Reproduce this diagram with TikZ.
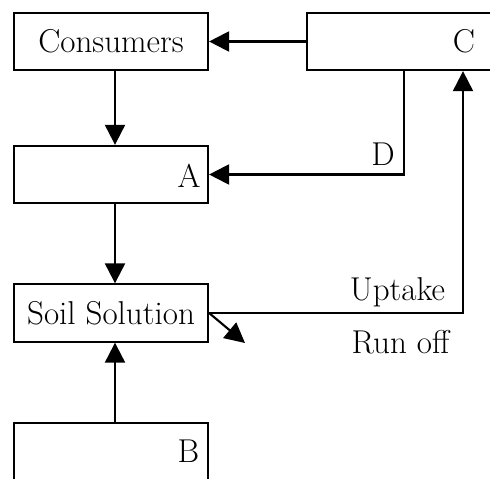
\documentclass[tikz,border=0pt]{standalone}
\usetikzlibrary{arrows.meta}

\begin{document}
\begin{tikzpicture}[x=0.025cm,y=-0.025cm,
  box/.style={draw,line width=1.5pt,minimum width=4.85cm,minimum height=1.43cm,inner sep=0pt},
  flow/.style={line width=1.5pt,-{Triangle[length=0.5cm,width=0.5cm]}},
  lbl/.style={font=\fontsize{23.5}{28}\selectfont}]

  % Fix the size of the page
  \useasboundingbox (0,0) rectangle (490,478);
  \clip (0,0) rectangle (490,478);

  % Define the boxes
  \node[box,lbl] (cons) at (111,41.5) {Consumers};
  \node[box] (c) at (404,41.5) {};
  \node[box] (a) at (111,174.5) {};
  \node[box,lbl] (soil) at (111,313) {Soil Solution};
  \node[box] (b) at (111,452) {};

  % Letters inside the boxes
  \node[lbl,anchor=base] (labC) at (464,53) {C};
  \node[lbl,anchor=base] (labA) at (189,187) {A};
  \node[lbl,anchor=base] (labB) at (188.5,462) {B};

  % Labels of the flows
  \node[lbl,anchor=base] (labD) at (383,165) {D};
  \node[lbl,anchor=base] (uptake) at (397.5,300) {Uptake};
  \node[lbl,anchor=base] (runoff) at (400.5,353) {Run off};

  % Helper coordinates for the connectors
  \coordinate (mid) at (115,0);
  \coordinate (up) at (463,0);
  \coordinate (loss) at (245,343);

  % Draw the flows
  \draw[flow] (c.west) -- (cons.east);
  \draw[flow] (cons.south -| mid) -- (a.north -| mid);
  \draw[flow] (a.south -| mid) -- (soil.north -| mid);
  \draw[flow] (b.north -| mid) -- (soil.south -| mid);
  \draw[flow] (c.south) |- (a.east);
  \draw[flow] (soil.east) -| (c.south -| up);
  \draw[flow] (soil.east) -- (loss);

\end{tikzpicture}
\end{document}
